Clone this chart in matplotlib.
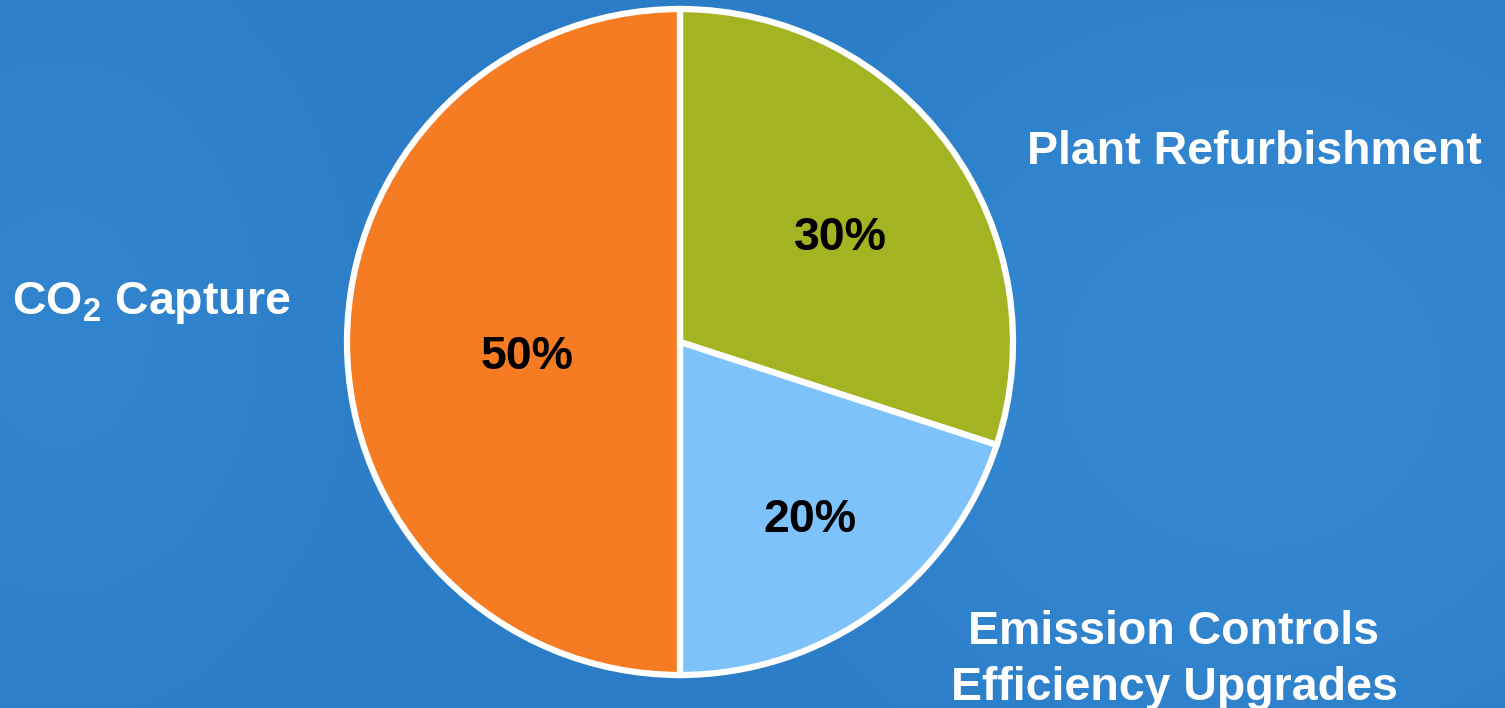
import numpy as np
import matplotlib.pyplot as plt
from matplotlib.colors import to_rgb

plt.rcParams['font.family'] = ['Liberation Sans', 'DejaVu Sans']
plt.rcParams['mathtext.fontset'] = 'custom'
plt.rcParams['mathtext.bf'] = 'Liberation Sans:bold'
plt.rcParams['mathtext.rm'] = 'Liberation Sans'

# shares of spending, drawn clockwise from 12 o'clock
categories = ['Plant Refurbishment', 'Emission Controls\nEfficiency Upgrades', r'$\mathbf{CO_2}$ Capture']
shares = [30, 20, 50]
colors = ['#A4B321', '#7DC2FB', '#F57C22']

W, H = 1505, 708
fig = plt.figure(figsize=(W / 100, H / 100), dpi=100)
ax = fig.add_axes([0, 0, 1, 1])
ax.set_xlim(0, W)
ax.set_ylim(0, H)
ax.set_aspect('equal')
ax.axis('off')

# soft blue backdrop, a little lighter on the right and far left
yy, xx = np.mgrid[0:H, 0:W]
base = np.array(to_rgb('#2A7CC6'))
light = np.array(to_rgb('#3589D2'))
glow = np.exp(-(((xx - 1250) / 420) ** 2 + ((yy - 330) / 380) ** 2))
glow = np.maximum(glow, 0.6 * np.exp(-(((xx - 60) / 300) ** 2 + ((yy - 380) / 400) ** 2)))
bg = base[None, None, :] * (1 - glow[..., None]) + light[None, None, :] * glow[..., None]
ax.imshow(bg, extent=[0, W, 0, H], origin='lower', zorder=0)

wedges, _ = ax.pie(shares, colors=colors, startangle=90, counterclock=False,
                   center=(680, H - 342), radius=333, frame=True,
                   wedgeprops=dict(edgecolor='white', linewidth=4.5))
for w in wedges:
    w.set_zorder(2)
ax.set_xlim(0, W)
ax.set_ylim(0, H)
ax.axis('off')

# percentage labels inside the slices
pct_pos = [(840, H - 238), (810, H - 520), (527, H - 357)]
for val, (px, py) in zip(shares, pct_pos):
    ax.text(px, py, f'{val}%', ha='center', va='center', fontsize=33.5,
            fontweight='bold', color='black', zorder=3)

# category names outside the pie
lab_style = dict(fontsize=33.5, fontweight='bold', color='white', zorder=3)
ax.text(1027, H - 152, categories[0], ha='left', va='center', **lab_style)
ax.text(1174, H - 660, categories[1], ha='center', va='center',
        linespacing=1.36, **lab_style)
ax.text(12, H - 303, categories[2], ha='left', va='center', **lab_style)

fig.savefig('out.png', dpi=100)
